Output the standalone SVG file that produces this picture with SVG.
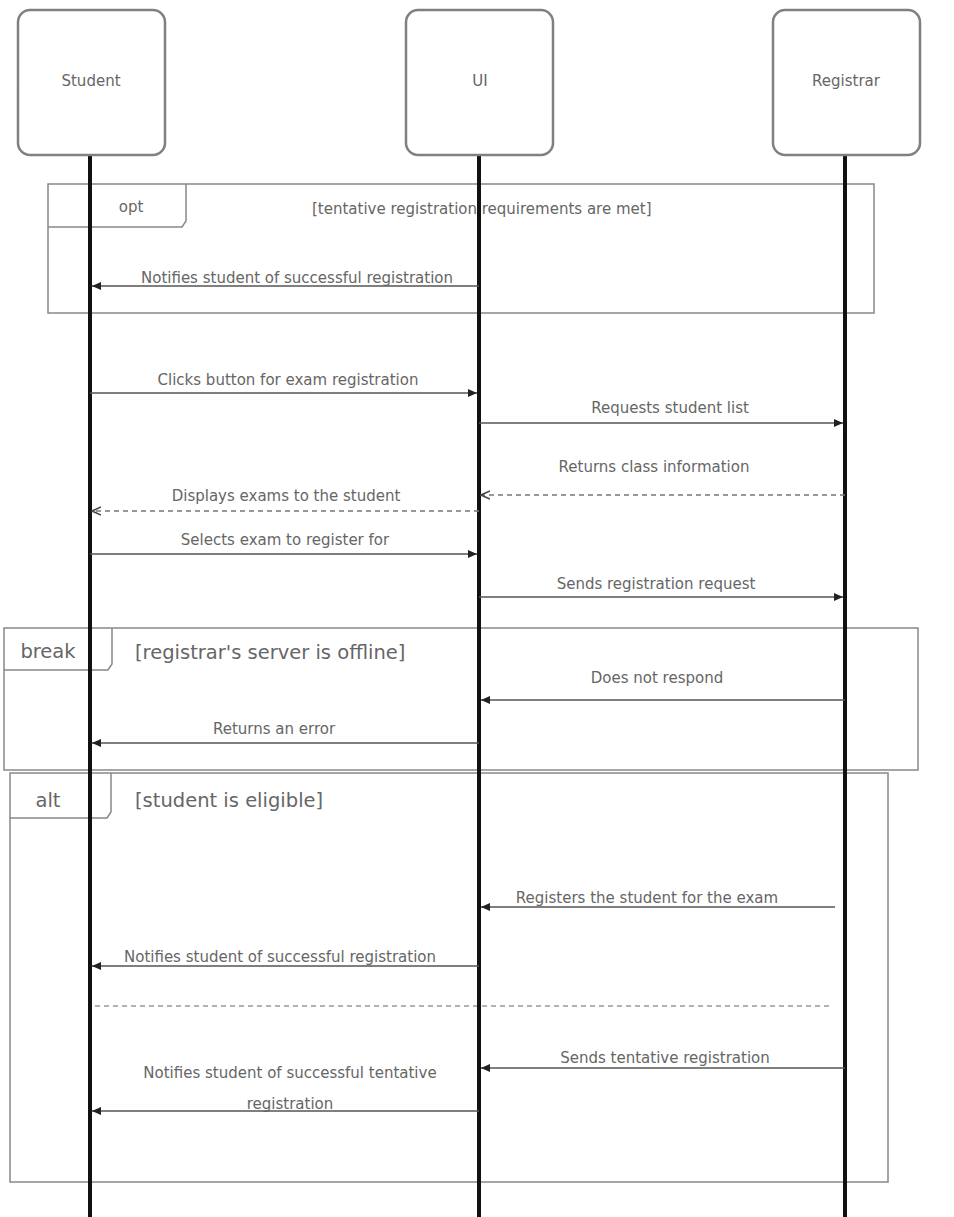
<svg xmlns="http://www.w3.org/2000/svg" width="954" height="1217" viewBox="0 0 954 1217">
<defs>
<style>
.box{fill:#fff;stroke:#808080;stroke-width:2.5}
.frag{fill:none;stroke:#888;stroke-width:1.5}
.life{stroke:#111;stroke-width:4}
.msg{stroke:#555;stroke-width:1.5;fill:none}
.ret{stroke:#777;stroke-width:1.5;fill:none;stroke-dasharray:5 4}
.sep{stroke:#999;stroke-width:1.5;fill:none;stroke-dasharray:5 4}
text{font-family:"DejaVu Sans","Liberation Sans",sans-serif;font-size:15px;fill:#666}
.g{font-size:19.5px}
.c{text-anchor:middle}
</style>
<marker id="ah" markerWidth="10" markerHeight="10" refX="9" refY="5" orient="auto" markerUnits="userSpaceOnUse">
<path d="M0,1 L9,5 L0,9 Z" fill="#222"/>
</marker>
<marker id="oh" markerWidth="10" markerHeight="10" refX="9" refY="5" orient="auto" markerUnits="userSpaceOnUse">
<path d="M0,1 L9,5 L0,9" fill="none" stroke="#444" stroke-width="1.5"/>
</marker>
</defs>
<rect width="954" height="1217" fill="#fff"/>

<g id="fragments">
<g id="frag-opt-top">
<rect class="frag" x="48" y="184" width="826" height="129"/>
<path class="frag" d="M48,227 H182 L186,221 V184"/>
<text class="c" x="131" y="212">opt</text>
<text x="312" y="214">[tentative registration requirements are met]</text>
</g>
<g id="frag-break">
<rect class="frag" x="4" y="628" width="914" height="142"/>
<path class="frag" d="M4,670 H108 L112,664 V628"/>
<text class="c g" x="48" y="658">break</text>
<text class="g" x="135" y="659">[registrar's server is offline]</text>
</g>
<g id="frag-alt">
<rect class="frag" x="10" y="773" width="878" height="409"/>
<path class="frag" d="M10,818 H107 L111,812 V773"/>
<text class="c g" x="48" y="807">alt</text>
<text class="g" x="135" y="807">[student is eligible]</text>
<line class="sep" x1="95" y1="1006" x2="830" y2="1006"/>
</g>
</g>

<g id="lifelines">
<line class="life" x1="90" y1="155" x2="90" y2="1217"/>
<line class="life" x1="479" y1="155" x2="479" y2="1217"/>
<line class="life" x1="845" y1="155" x2="845" y2="1217"/>
</g>

<g id="student">
<rect class="box" x="18" y="10" width="147" height="145" rx="12"/>
<text class="c" x="91" y="86">Student</text>
</g>
<g id="ui">
<rect class="box" x="406" y="10" width="147" height="145" rx="12"/>
<text class="c" x="480" y="86">UI</text>
</g>
<g id="registrar">
<rect class="box" x="773" y="10" width="147" height="145" rx="12"/>
<text class="c" x="846" y="86">Registrar</text>
</g>

<g id="connectors">
<line class="msg" x1="479" y1="286" x2="92" y2="286" marker-end="url(#ah)"/>
<text class="c" x="297" y="283">Notifies student of successful registration</text>

<line class="msg" x1="90" y1="393" x2="477" y2="393" marker-end="url(#ah)"/>
<text class="c" x="288" y="385">Clicks button for exam registration</text>

<line class="msg" x1="479" y1="423" x2="843" y2="423" marker-end="url(#ah)"/>
<text class="c" x="670" y="413">Requests student list</text>

<line class="ret" x1="845" y1="495" x2="481" y2="495" marker-end="url(#oh)"/>
<text class="c" x="654" y="472">Returns class information</text>

<line class="ret" x1="479" y1="511" x2="92" y2="511" marker-end="url(#oh)"/>
<text class="c" x="286" y="501">Displays exams to the student</text>

<line class="msg" x1="90" y1="554" x2="477" y2="554" marker-end="url(#ah)"/>
<text class="c" x="285" y="545">Selects exam to register for</text>

<line class="msg" x1="479" y1="597" x2="843" y2="597" marker-end="url(#ah)"/>
<text class="c" x="656" y="589">Sends registration request</text>

<line class="msg" x1="845" y1="700" x2="481" y2="700" marker-end="url(#ah)"/>
<text class="c" x="657" y="683">Does not respond</text>

<line class="msg" x1="479" y1="743" x2="92" y2="743" marker-end="url(#ah)"/>
<text class="c" x="274" y="734">Returns an error</text>

<line class="msg" x1="835" y1="907" x2="481" y2="907" marker-end="url(#ah)"/>
<text class="c" x="647" y="903">Registers the student for the exam</text>

<line class="msg" x1="479" y1="966" x2="92" y2="966" marker-end="url(#ah)"/>
<text class="c" x="280" y="962">Notifies student of successful registration</text>

<line class="msg" x1="845" y1="1068" x2="481" y2="1068" marker-end="url(#ah)"/>
<text class="c" x="665" y="1063">Sends tentative registration</text>

<line class="msg" x1="479" y1="1111" x2="92" y2="1111" marker-end="url(#ah)"/>
<text class="c" x="290" y="1078">Notifies student of successful tentative</text>
<text class="c" x="290" y="1109">registration</text>
</g>
</svg>
